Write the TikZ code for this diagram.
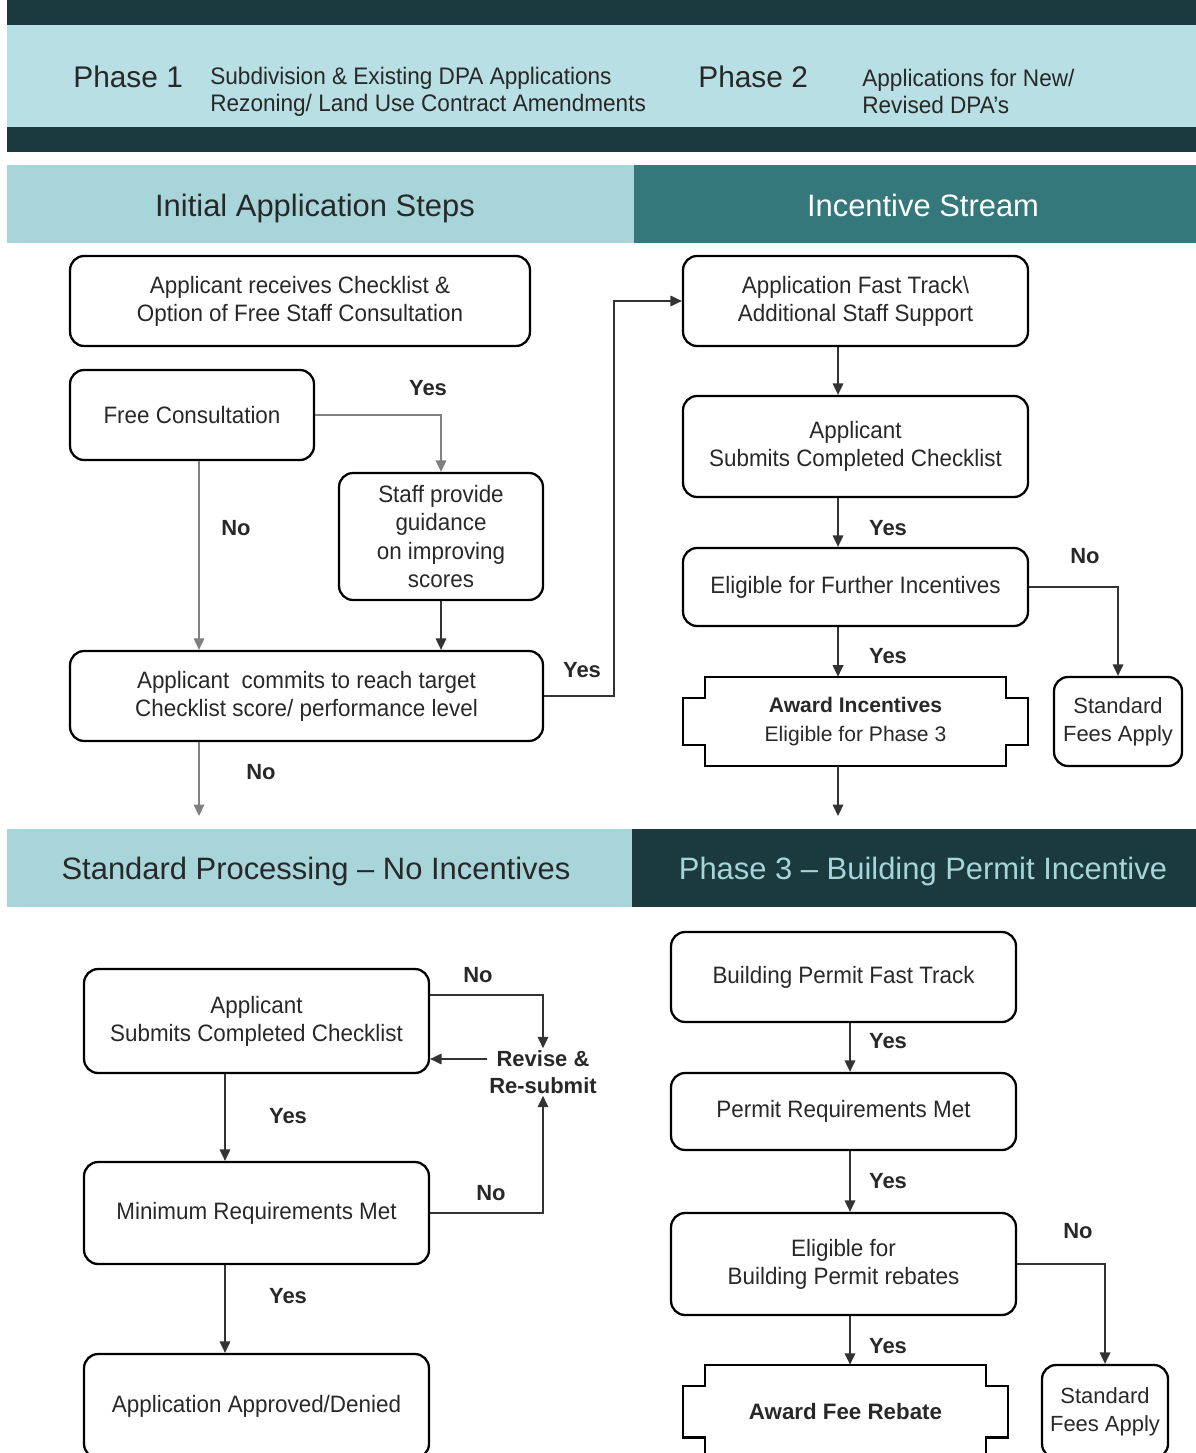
\documentclass[tikz,border=0pt]{standalone}
\usepackage{fontspec}
\setmainfont{Liberation Sans}
\newfontfamily\narrowfont[FakeStretch=0.945]{Liberation Sans}
\usetikzlibrary{arrows.meta}
\definecolor{darkband}{RGB}{27,58,62}
\definecolor{paleband}{RGB}{184,223,227}
\definecolor{headband}{RGB}{167,213,218}
\definecolor{tealband}{RGB}{52,120,123}
\definecolor{inkgray}{RGB}{40,40,40}

\begin{document}
\begin{tikzpicture}[x=0.02cm,y=-0.02cm,
  stepbox/.style={draw,line width=1.3pt,rounded corners=8pt,align=center,text=inkgray,
    font=\narrowfont\fontsize{13.5}{16}\selectfont,inner sep=2pt},
  feebox/.style={stepbox,font=\fontsize{12.5}{16}\selectfont},
  awardbox/.style={align=center,inner sep=0pt,text=inkgray,font=\fontsize{12}{16}\selectfont},
  conn/.style={-{Triangle[width=6pt,length=6.5pt]},line width=0.9pt,black!80},
  connlight/.style={conn,black!50},
  lbl/.style={font=\bfseries\fontsize{12.5}{15.5}\selectfont,text=inkgray},
  headtext/.style={anchor=base,font=\fontsize{17.6}{20}\selectfont,text=inkgray},
  bandtext/.style={anchor=west,inner sep=0pt,align=left,text=inkgray}]
  \useasboundingbox (0,0) rectangle (1196,1453);
  \clip (0,0) rectangle (1196,1453);

  % bands
  \fill[darkband] (7,0) rectangle (1196,25);
  \fill[paleband] (7,25) rectangle (1196,127);
  \fill[darkband] (7,127) rectangle (1196,152);
  \fill[headband] (7,165) rectangle (634,243);
  \fill[tealband] (634,165) rectangle (1196,243);
  \fill[headband] (7,829) rectangle (632,907);
  \fill[darkband] (632,829) rectangle (1196,907);

  \node[bandtext,font=\fontsize{17}{20}\selectfont] (phaseone) at (73,77) {Phase 1};
  \node[bandtext,font=\narrowfont\fontsize{13.6}{15.5}\selectfont] (phaseonetxt) at (210,91.5)
    {Subdivision \& Existing DPA Applications\\Rezoning/ Land Use Contract Amendments};
  \node[bandtext,font=\fontsize{17}{20}\selectfont] (phasetwo) at (698,77) {Phase 2};
  \node[bandtext,font=\narrowfont\fontsize{13.6}{15.5}\selectfont] (phasetwotxt) at (862,91.5)
    {Applications for New/\\Revised DPA’s};
  \node[headtext] (inithead) at (315,216) {Initial Application Steps};
  \node[headtext,text=white] (incenthead) at (923,216) {Incentive Stream};
  \node[headtext] (stdhead) at (316,879) {Standard Processing – No Incentives};
  \node[headtext,text=headband] (phthreehead) at (923,879) {Phase 3 – Building Permit Incentive};

  % initial steps
  \node[stepbox,minimum width=9.2cm,minimum height=1.8cm] (receive) at (300,301)
    {Applicant receives Checklist \&\\Option of Free Staff Consultation};
  \node[stepbox,minimum width=4.88cm,minimum height=1.8cm] (consult) at (192,415) {Free Consultation};
  \node[stepbox,minimum width=4.08cm,minimum height=2.54cm] (guide) at (441,536.5)
    {Staff provide\\guidance\\on improving\\scores};
  \node[stepbox,minimum width=9.46cm,minimum height=1.8cm] (commit) at (306.5,696)
    {Applicant~ commits to reach target\\Checklist score/ performance level};

  % incentive stream
  \node[stepbox,minimum width=6.9cm,minimum height=1.8cm] (fasttrack) at (855.5,301)
    {Application Fast Track\textbackslash\\Additional Staff Support};
  \node[stepbox,minimum width=6.9cm,minimum height=2.02cm] (submit) at (855.5,446.5)
    {Applicant\\Submits Completed Checklist};
  \node[stepbox,minimum width=6.9cm,minimum height=1.56cm] (further) at (855.5,587)
    {Eligible for Further Incentives};
  \node[awardbox,minimum width=6.9cm,minimum height=1.78cm] (award) at (855.5,721.5)
    {\textbf{Award Incentives}\\Eligible for Phase 3};
  \node[feebox,minimum width=2.56cm,minimum height=1.78cm] (stdfees) at (1118,721.5)
    {Standard\\Fees Apply};

  % standard processing
  \node[stepbox,minimum width=6.9cm,minimum height=2.08cm] (subcheck) at (256.5,1021)
    {Applicant\\Submits Completed Checklist};
  \node[stepbox,minimum width=6.9cm,minimum height=2.04cm] (minreq) at (256.5,1213)
    {Minimum Requirements Met};
  \node[stepbox,minimum width=6.9cm,minimum height=2.08cm] (decision) at (256.5,1406)
    {Application Approved/Denied};
  \node[lbl,align=center,inner sep=1pt] (revise) at (543,1072) {Revise \&\\Re-submit};

  % phase 3
  \node[stepbox,minimum width=6.9cm,minimum height=1.8cm] (bpfast) at (843.5,977)
    {Building Permit Fast Track};
  \node[stepbox,minimum width=6.9cm,minimum height=1.54cm] (permit) at (843.5,1111.5)
    {Permit Requirements Met};
  \node[stepbox,minimum width=6.9cm,minimum height=2.04cm] (rebatecheck) at (843.5,1264)
    {Eligible for\\Building Permit rebates};
  \node[awardbox,font=\fontsize{12.7}{16}\selectfont\bfseries,minimum width=6.5cm,minimum height=1.86cm]
    (rebate) at (845.5,1411.5) {Award Fee Rebate};
  \node[feebox,minimum width=2.52cm,minimum height=1.86cm] (stdfeestwo) at (1105,1411.5)
    {Standard\\Fees Apply};

  % notched award outlines
  \foreach \n in {award,rebate}
    \draw[line width=1.3pt] ([xshift=0.44cm]\n.north west) -- ([xshift=-0.44cm]\n.north east)
      -- ++(0,-0.42cm) -- ++(0.44cm,0) -- ([yshift=0.42cm]\n.south east) -- ++(-0.44cm,0)
      -- ([xshift=-0.44cm]\n.south east) -- ([xshift=0.44cm]\n.south west) -- ++(0,0.42cm)
      -- ++(-0.44cm,0) -- ([yshift=-0.42cm]\n.north west) -- ++(0.44cm,0) -- cycle;

  \coordinate (nostd) at (199,816);
  \coordinate (tophase) at (838,816);
  \coordinate (leftcol) at (225,0);
  \coordinate (rightcol) at (850,0);

  % connectors
  \draw[connlight] (consult.east) -| (guide.north);
  \draw[connlight] (consult.south -| nostd) -- (commit.north -| nostd);
  \draw[conn] (guide.south) -- (guide.south |- commit.north);
  \draw[conn] (commit.east) -- ++(70,0) |- (fasttrack.west);
  \draw[connlight] (commit.south -| nostd) -- (nostd);
  \draw[conn] (fasttrack.south -| tophase) -- (submit.north -| tophase);
  \draw[conn] (submit.south -| tophase) -- (further.north -| tophase);
  \draw[conn] (further.south -| tophase) -- (award.north -| tophase);
  \draw[conn] (further.east) -| (stdfees.north);
  \draw[conn] (award.south -| tophase) -- (tophase);

  \draw[conn] ([yshift=0.52cm]subcheck.east) -| (revise.north);
  \draw[conn] ([yshift=0.26cm]revise.west) -- ([yshift=-0.76cm]subcheck.east);
  \draw[conn] (minreq.east) -| (revise.south);
  \draw[conn] (subcheck.south -| leftcol) -- (minreq.north -| leftcol);
  \draw[conn] (minreq.south -| leftcol) -- (decision.north -| leftcol);
  \draw[conn] (bpfast.south -| rightcol) -- (permit.north -| rightcol);
  \draw[conn] (permit.south -| rightcol) -- (rebatecheck.north -| rightcol);
  \draw[conn] (rebatecheck.south -| rightcol) -- (rebate.north -| rightcol);
  \draw[conn] (rebatecheck.east) -| (stdfeestwo.north);

  % labels
  \node[lbl] (yesguide) at (428,388) {Yes};
  \node[lbl] (noconsult) at (236,528) {No};
  \node[lbl] (yesstream) at (582,670) {Yes};
  \node[lbl] (nocommit) at (261,772) {No};
  \node[lbl] (yessubmit) at (888,528) {Yes};
  \node[lbl] (nofurther) at (1085,556) {No};
  \node[lbl] (yesfurther) at (888,656) {Yes};
  \node[lbl] (nosubcheck) at (478,975) {No};
  \node[lbl] (nominreq) at (491,1193) {No};
  \node[lbl] (yessubcheck) at (288,1116) {Yes};
  \node[lbl] (yesminreq) at (288,1296) {Yes};
  \node[lbl] (yesbpfast) at (888,1041) {Yes};
  \node[lbl] (yespermit) at (888,1181) {Yes};
  \node[lbl] (norebate) at (1078,1231) {No};
  \node[lbl] (yesrebate) at (888,1346) {Yes};
\end{tikzpicture}
\end{document}
